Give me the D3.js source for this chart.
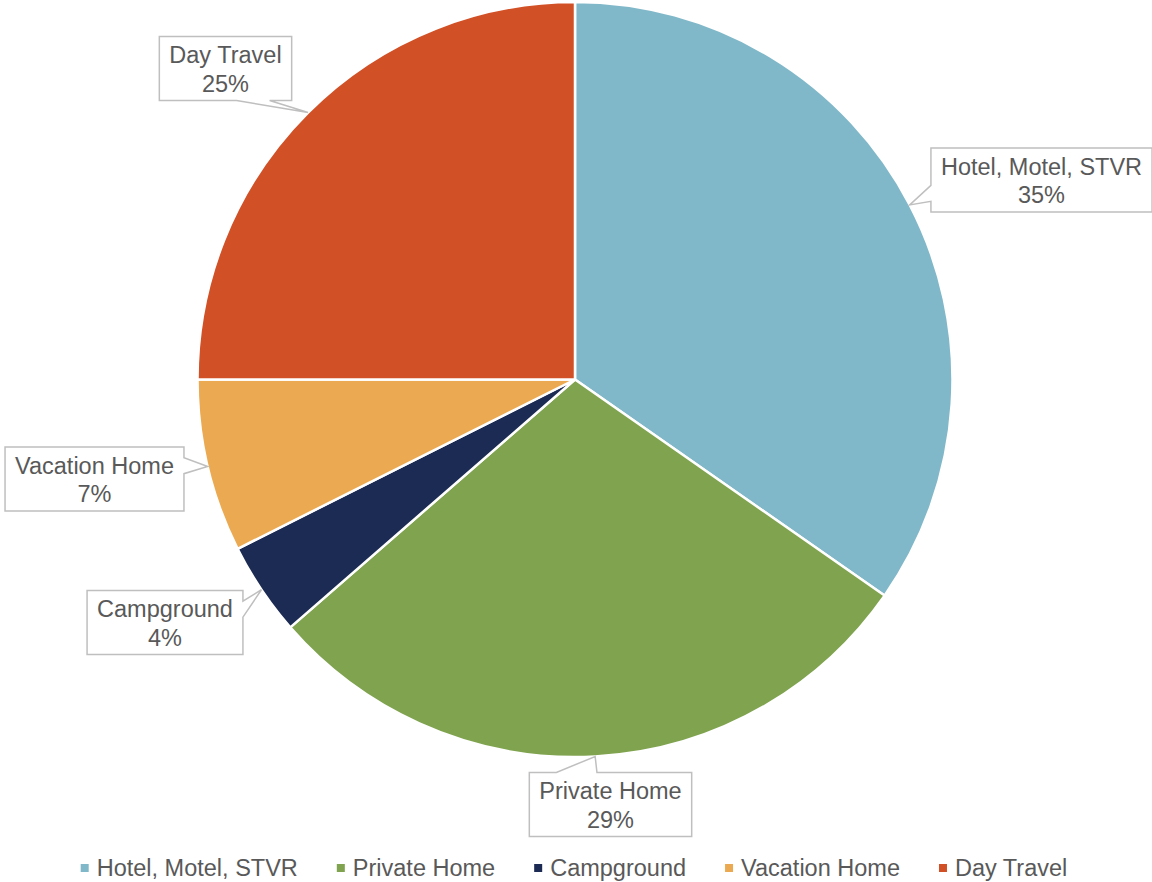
<!DOCTYPE html>
<html>
<head>
<meta charset="utf-8">
<script src="https://cdn.jsdelivr.net/npm/d3@7"></script>
<style>
  html, body { margin: 0; padding: 0; background: #fff; }
  svg { display: block; font-family: "Liberation Sans", Arial, sans-serif; }
</style>
</head>
<body>
<svg id="chart" width="1152" height="882"></svg>
<script>
// ------------------------------------------------------
// DATA
// ------------------------------------------------------
var categories = ["Hotel, Motel, STVR", "Private Home", "Campground", "Vacation Home", "Day Travel"];
var shares = [34.7, 28.9, 4.0, 7.4, 25.0];
var colours = ["#80B8C9", "#7FA34E", "#1C2B53", "#EBAA51", "#D15026"];

// callout box centres (layout only)
var calloutCentres = [[1041.5, 180], [610.5, 804.5], [165, 622.5], [94.5, 479], [225.5, 68.5]];

// ------------------------------------------------------
// SETUP
// ------------------------------------------------------
var svg = d3.select("#chart"),
    cx = 575, cy = 379.5, radius = 377.5,
    fontSize = 23.5,
    legendFontSize = 23.5,
    textColour = "#595959";

var data = categories.map(function(c, i) {
    return {name: c, value: shares[i], colour: colours[i], centre: calloutCentres[i]};
});

var pie = d3.pie().sort(null).value(function(d) { return d.value; });
var arc = d3.arc().innerRadius(0).outerRadius(radius);
var arcs = pie(data);

var g = svg.append("g").attr("transform", "translate(" + cx + "," + cy + ")");

g.selectAll("path")
    .data(arcs)
    .enter().append("path")
    .attr("d", arc)
    .attr("fill", function(d) { return d.data.colour; })
    .attr("stroke", "#fff")
    .attr("stroke-width", 2.5)
    .attr("stroke-linejoin", "round");

// ------------------------------------------------------
// Callout labels (rect with wedge pointing to arc edge)
// ------------------------------------------------------
function calloutPath(x0, y0, w, h, tx, ty) {
    var hc = x0 + w / 2, vc = y0 + h / 2;
    var dx = tx - hc, dy = ty - vc;
    var x1 = x0 + w, y1 = y0 + h;
    var xa = x0 + w * (dx > 0 ? 7 : 2) / 12, xb = x0 + w * (dx > 0 ? 10 : 5) / 12;
    var ya = y0 + h * (dy > 0 ? 7 : 2) / 12, yb = y0 + h * (dy > 0 ? 10 : 5) / 12;
    var pts;
    if (Math.abs(dx) * h > Math.abs(dy) * w) {
        if (dx < 0) {
            pts = [[x0, y0], [x1, y0], [x1, y1], [x0, y1], [x0, yb], [tx, ty], [x0, ya]];
        } else {
            pts = [[x0, y0], [x1, y0], [x1, ya], [tx, ty], [x1, yb], [x1, y1], [x0, y1]];
        }
    } else {
        if (dy < 0) {
            pts = [[x0, y0], [xa, y0], [tx, ty], [xb, y0], [x1, y0], [x1, y1], [x0, y1]];
        } else {
            pts = [[x0, y0], [x1, y0], [x1, y1], [xb, y1], [tx, ty], [xa, y1], [x0, y1]];
        }
    }
    return "M" + pts.map(function(p) { return p[0] + "," + p[1]; }).join("L") + "Z";
}

var labels = svg.append("g");

arcs.forEach(function(d) {
    var mid = (d.startAngle + d.endAngle) / 2;
    var tx = cx + radius * Math.sin(mid),
        ty = cy - radius * Math.cos(mid);
    var c = d.data.centre;
    var lg = labels.append("g");
    var path = lg.append("path");
    var t1 = lg.append("text")
        .attr("x", c[0])
        .attr("text-anchor", "middle")
        .attr("font-size", fontSize)
        .attr("fill", textColour)
        .text(d.data.name);
    var t2 = lg.append("text")
        .attr("x", c[0])
        .attr("text-anchor", "middle")
        .attr("font-size", fontSize)
        .attr("fill", textColour)
        .text(Math.round(d.data.value) + "%");
    var w = Math.max(t1.node().getComputedTextLength(), t2.node().getComputedTextLength()) + 20,
        h = 64;
    var x0 = c[0] - w / 2, y0 = c[1] - h / 2;
    t1.attr("y", y0 + 26.5);
    t2.attr("y", y0 + 55);
    path.attr("d", calloutPath(x0, y0, w, h, tx, ty))
        .attr("fill", "#fff")
        .attr("stroke", "#BFBFBF")
        .attr("stroke-width", 1.5);
});

// ------------------------------------------------------
// Legend
// ------------------------------------------------------
var legend = svg.append("g");
var items = legend.selectAll("g")
    .data(data)
    .enter().append("g");

items.append("rect")
    .attr("width", 8)
    .attr("height", 8)
    .attr("y", 864)
    .attr("fill", function(d) { return d.colour; });

items.append("text")
    .attr("y", 876)
    .attr("x", 16)
    .attr("font-size", legendFontSize)
    .attr("fill", textColour)
    .text(function(d) { return d.name; });

var pos = 0, gap = 39;
items.each(function() {
    var tw = d3.select(this).select("text").node().getComputedTextLength();
    d3.select(this).attr("transform", "translate(" + pos + ",0)");
    pos += 16 + tw + gap;
});
var total = pos - gap;
legend.attr("transform", "translate(" + (574 - total / 2) + ",0)");
</script>
</body>
</html>
